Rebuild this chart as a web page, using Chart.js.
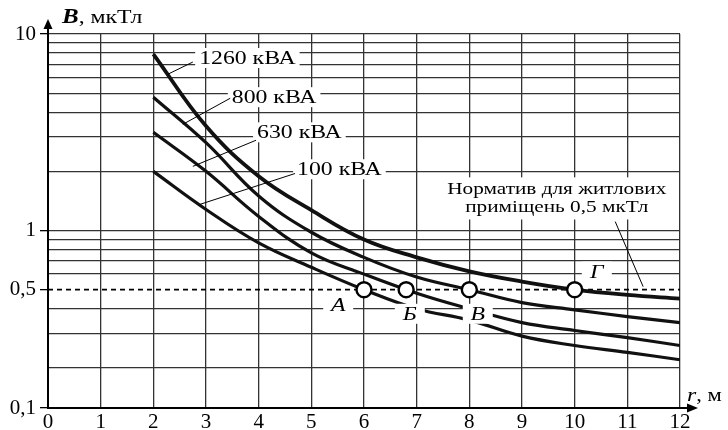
<!DOCTYPE html>
<html>
<head>
<meta charset="utf-8">
<script src="https://cdn.jsdelivr.net/npm/chart.js@4.4.1/dist/chart.umd.min.js"></script>
<style>
  body { margin: 0; background: #fff; }
</style>
</head>
<body>
<canvas id="chart" width="728" height="430"></canvas>
<script>
// distance r, m
const distances = [2, 3, 4, 5, 6, 7, 8, 9, 10, 11, 12];
// magnetic induction B, uT, per transformer power
const field1260 = [7.9, 3.4, 1.89, 1.27, 0.90, 0.73, 0.62, 0.55, 0.50, 0.47, 0.45];
const field800 = [4.77, 2.8, 1.5, 0.98, 0.73, 0.58, 0.50, 0.43, 0.395, 0.365, 0.34];
const field630 = [3.16, 2.0, 1.18, 0.77, 0.60, 0.48, 0.40, 0.34, 0.31, 0.285, 0.26];
const field100 = [2.0, 1.28, 0.865, 0.65, 0.50, 0.40, 0.35, 0.29, 0.26, 0.24, 0.22];
const seriesNames = ['1260 кВА', '800 кВА', '630 кВА', '100 кВА'];

const normLevel = 0.5;
const normText = ['Норматив для житлових', 'приміщень 0,5 мкТл'];
const crossingX = [6, 6.8, 8, 10];
const crossingNames = ['А', 'Б', 'В', 'Г'];

const xTicks = [0, 1, 2, 3, 4, 5, 6, 7, 8, 9, 10, 11, 12];
const yGridValues = [0.125, 0.2, 0.3, 0.4, 0.5, 0.6, 0.7, 0.8, 0.9, 1, 2, 3, 4, 5, 6, 7, 8, 9, 10];
const yTickValues = [0.125, 0.5, 1, 10];
const yTickLabels = ['0,1', '0,5', '1', '10'];

// label placement, in data units
const seriesLabelPos = [
  { x: 2.87, y: 7.55, fromX: 2.75, fromY: 7.2, toX: 2.28, toY: 6.25 },
  { x: 3.49, y: 4.77, fromX: 3.46, fromY: 4.71, toX: 2.56, toY: 3.47 },
  { x: 3.97, y: 3.16, fromX: 3.95, fromY: 2.88, toX: 2.75, toY: 2.12 },
  { x: 4.73, y: 2.05, fromX: 4.69, fromY: 1.95, toX: 2.89, toY: 1.36 }
];
const crossingLabelPos = [
  { x: 5.51, y: 0.419 }, { x: 6.87, y: 0.377 }, { x: 8.16, y: 0.377 }, { x: 10.42, y: 0.618 }
];
const normLabelPos = { x: 9.66, y1: 1.62, y2: 1.31, fromX: 10.77, fromY: 1.11, toX: 11.3, toY: 0.518 };

const STRETCH = 1.25;
const SERIF = '"Liberation Serif", "Times New Roman", serif';
Chart.defaults.font.family = SERIF;
Chart.defaults.color = '#000';

function pts(ys) {
  return distances.map((d, i) => ({ x: d, y: ys[i] }));
}

function drawText(ctx, s, x, y, align) {
  ctx.save();
  ctx.translate(x, y);
  ctx.scale(STRETCH, 1);
  ctx.textAlign = align || 'left';
  ctx.textBaseline = 'middle';
  ctx.fillText(s, 0, 0);
  ctx.restore();
}

function textW(ctx, s) {
  return ctx.measureText(s).width * STRETCH;
}

function line(ctx, x1, y1, x2, y2, w) {
  ctx.beginPath();
  ctx.lineWidth = w;
  ctx.moveTo(x1, y1);
  ctx.lineTo(x2, y2);
  ctx.stroke();
}

const annotations = {
  id: 'annotations',
  afterDatasetsDraw(chart) {
    const { ctx, scales: { x, y } } = chart;
    ctx.save();
    ctx.strokeStyle = '#000';
    ctx.fillStyle = '#000';

    // power labels with leaders
    ctx.font = '19px ' + SERIF;
    seriesNames.forEach((name, i) => {
      const p = seriesLabelPos[i];
      const px = x.getPixelForValue(p.x);
      const py = y.getPixelForValue(p.y);
      const w = textW(ctx, name);
      ctx.fillStyle = '#fff';
      ctx.fillRect(px - 4, py - 10, w + 8, 20);
      ctx.fillStyle = '#000';
      line(ctx, x.getPixelForValue(p.fromX), y.getPixelForValue(p.fromY),
        x.getPixelForValue(p.toX), y.getPixelForValue(p.toY), 1);
      drawText(ctx, name, px, py + 1);
    });

    // norm text
    const nx = x.getPixelForValue(normLabelPos.x);
    const ny1 = y.getPixelForValue(normLabelPos.y1);
    const ny2 = y.getPixelForValue(normLabelPos.y2);
    ctx.font = '17px ' + SERIF;
    const nw = Math.max(textW(ctx, normText[0]), textW(ctx, normText[1]));
    ctx.fillStyle = '#fff';
    ctx.fillRect(nx - nw / 2 - 6, ny1 - 12, nw + 12, ny2 - ny1 + 24);
    ctx.fillStyle = '#000';
    drawText(ctx, normText[0], nx, ny1, 'center');
    drawText(ctx, normText[1], nx, ny2, 'center');
    line(ctx, x.getPixelForValue(normLabelPos.fromX), y.getPixelForValue(normLabelPos.fromY),
      x.getPixelForValue(normLabelPos.toX), y.getPixelForValue(normLabelPos.toY), 1);

    // crossing letters
    ctx.font = 'italic 19px ' + SERIF;
    crossingNames.forEach((name, i) => {
      const p = crossingLabelPos[i];
      const px = x.getPixelForValue(p.x);
      const py = y.getPixelForValue(p.y);
      ctx.fillStyle = '#fff';
      ctx.fillRect(px - 15, py - 10, 30, 20);
      ctx.fillStyle = '#000';
      drawText(ctx, name, px, py + 1, 'center');
    });
    ctx.restore();
  },
  afterDraw(chart) {
    const { ctx, chartArea: a } = chart;
    ctx.save();
    ctx.strokeStyle = '#000';
    ctx.fillStyle = '#000';
    // axis arrows
    line(ctx, a.left, a.top, a.left, a.top - 12, 2);
    ctx.beginPath();
    ctx.moveTo(a.left, a.top - 15);
    ctx.lineTo(a.left - 4.5, a.top - 5);
    ctx.lineTo(a.left + 4.5, a.top - 5);
    ctx.closePath();
    ctx.fill();
    line(ctx, a.right, a.bottom, a.right + 10, a.bottom, 2);
    ctx.beginPath();
    ctx.moveTo(a.right + 18, a.bottom);
    ctx.lineTo(a.right + 7, a.bottom - 4.5);
    ctx.lineTo(a.right + 7, a.bottom + 4.5);
    ctx.closePath();
    ctx.fill();

    // axis titles
    ctx.font = 'italic bold 20px ' + SERIF;
    drawText(ctx, 'B', a.left + 14, a.top - 16);
    const bw = textW(ctx, 'B');
    ctx.font = '19px ' + SERIF;
    drawText(ctx, ', мкТл', a.left + 14 + bw, a.top - 16);
    ctx.font = 'italic 19px ' + SERIF;
    drawText(ctx, 'r', a.right + 7, a.bottom - 12);
    const rw = textW(ctx, 'r');
    ctx.font = '18px ' + SERIF;
    drawText(ctx, ', м', a.right + 7 + rw, a.bottom - 12);
    ctx.restore();
  }
};

const curveStyle = (data, width, order) => ({
  data: pts(data),
  borderColor: '#111',
  borderWidth: width,
  pointRadius: 0,
  tension: 0.4,
  order: order
});

new Chart(document.getElementById('chart'), {
  type: 'line',
  data: {
    datasets: [
      curveStyle(field1260, 3.8, 1),
      curveStyle(field800, 3.2, 1),
      curveStyle(field630, 3.2, 1),
      curveStyle(field100, 3.2, 1),
      {
        data: [{ x: 0, y: normLevel }, { x: 12, y: normLevel }],
        borderColor: '#000',
        borderWidth: 1.7,
        borderDash: [5, 4],
        pointRadius: 0,
        order: 2
      },
      {
        data: crossingX.map(v => ({ x: v, y: normLevel })),
        showLine: false,
        pointRadius: 7.5,
        pointBackgroundColor: '#fff',
        pointBorderColor: '#000',
        pointBorderWidth: 2.4,
        order: 0
      }
    ]
  },
  options: {
    responsive: false,
    animation: false,
    layout: { padding: { top: 34, right: 48, left: 0, bottom: 0 } },
    plugins: { legend: { display: false }, tooltip: { enabled: false } },
    scales: {
      x: {
        type: 'linear',
        min: 0,
        max: 12,
        afterBuildTicks: s => { s.ticks = xTicks.map(v => ({ value: v })); },
        afterFit: s => { s.height = 22; },
        ticks: { color: '#000', font: { size: 21 }, padding: 2, maxRotation: 0 },
        grid: {
          color: c => (c.tick && c.tick.value === 0) ? 'rgba(0,0,0,0)' : '#333',
          lineWidth: 1.3,
          drawTicks: false
        },
        border: { color: '#000', width: 2 }
      },
      y: {
        type: 'logarithmic',
        min: 0.125,
        max: 10,
        afterBuildTicks: s => { s.ticks = yGridValues.map(v => ({ value: v })); },
        afterFit: s => { s.width = 48; },
        ticks: {
          autoSkip: false,
          color: '#000',
          font: { size: 21 },
          padding: 4,
          callback: v => {
            const i = yTickValues.indexOf(v);
            return i < 0 ? '' : yTickLabels[i];
          }
        },
        grid: {
          color: c => (c.tick && (c.tick.value === 0.5 || c.tick.value === 0.125)) ? 'rgba(0,0,0,0)' : '#333',
          tickColor: c => (c.tick && yTickValues.includes(c.tick.value)) ? '#000' : 'rgba(0,0,0,0)',
          tickLength: 8,
          lineWidth: 1.3
        },
        border: { color: '#000', width: 2 }
      }
    }
  },
  plugins: [annotations]
});
</script>
</body>
</html>
